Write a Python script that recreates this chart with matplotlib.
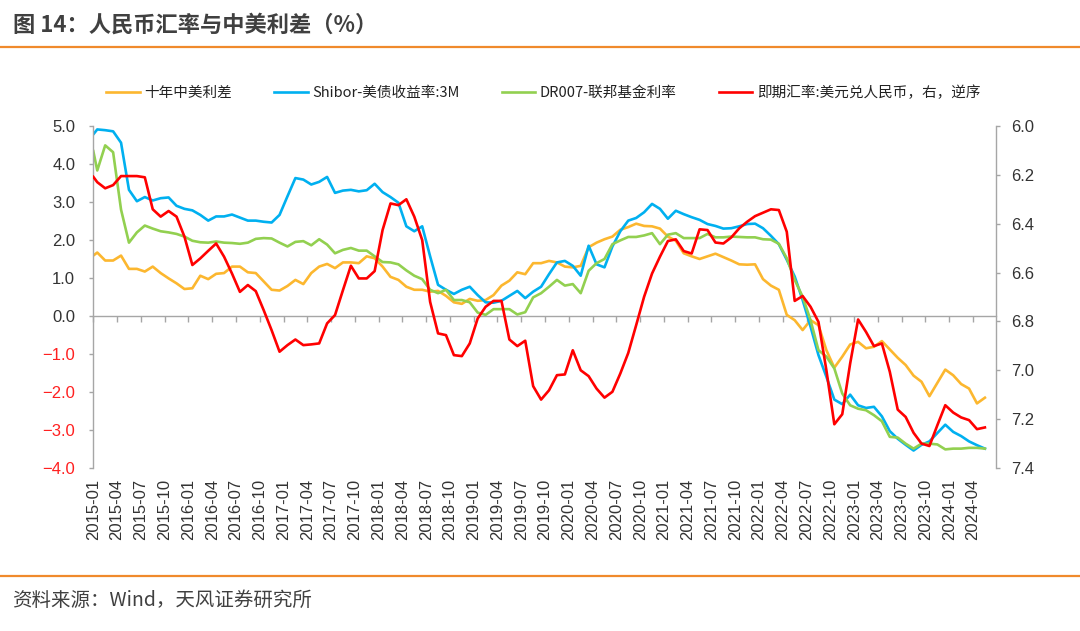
import numpy as np
import matplotlib
matplotlib.use("Agg")
import matplotlib.pyplot as plt
from matplotlib.lines import Line2D
from matplotlib.font_manager import FontProperties

plt.rcParams['font.family'] = ['Liberation Sans', 'Noto Sans CJK SC', 'DejaVu Sans']
CJK = ['Noto Sans CJK SC', 'DejaVu Sans']

# ---------------- data ----------------
# monthly observations 2015-01 ... 2024-05; the first element of every series
# is the value at the very start of the axis (start of 2015-01)
months = [f"{y}-{m:02d}" for y in range(2015, 2025) for m in range(1, 13)][:113]
tick_labels = months[::3]

spread_10y = [1.59,
    1.67, 1.46, 1.46, 1.59, 1.24, 1.24, 1.17, 1.30, 1.13, 0.99,
    0.86, 0.71, 0.73, 1.06, 0.97, 1.11, 1.13, 1.30, 1.30, 1.15,
    1.13, 0.91, 0.69, 0.67, 0.79, 0.95, 0.84, 1.13, 1.30, 1.37,
    1.26, 1.41, 1.41, 1.39, 1.57, 1.52, 1.30, 1.03, 0.95, 0.77,
    0.69, 0.69, 0.64, 0.66, 0.53, 0.36, 0.32, 0.45, 0.40, 0.42,
    0.55, 0.80, 0.93, 1.15, 1.10, 1.39, 1.39, 1.45, 1.41, 1.30,
    1.28, 1.32, 1.81, 1.93, 2.02, 2.09, 2.27, 2.34, 2.43, 2.37,
    2.36, 2.30, 2.09, 1.98, 1.65, 1.57, 1.50, 1.57, 1.64, 1.55,
    1.46, 1.36, 1.35, 1.36, 0.97, 0.80, 0.69, 0.03, -0.11, -0.37,
    -0.11, -0.24, -0.90, -1.36, -1.07, -0.75, -0.68, -0.85, -0.81, -0.66,
    -0.88, -1.10, -1.29, -1.57, -1.73, -2.11, -1.76, -1.41, -1.56, -1.79,
    -1.91, -2.30, -2.15]

shibor_spread = [4.78,
    4.91, 4.89, 4.86, 4.56, 3.32, 3.02, 3.13, 3.04, 3.10, 3.12,
    2.90, 2.82, 2.78, 2.66, 2.51, 2.62, 2.62, 2.67, 2.59, 2.51,
    2.51, 2.48, 2.46, 2.66, 3.15, 3.63, 3.59, 3.46, 3.53, 3.66,
    3.24, 3.30, 3.32, 3.28, 3.31, 3.48, 3.26, 3.13, 2.98, 2.36,
    2.23, 2.36, 1.57, 0.82, 0.69, 0.58, 0.69, 0.77, 0.55, 0.36,
    0.35, 0.40, 0.53, 0.66, 0.47, 0.64, 0.77, 1.10, 1.41, 1.45,
    1.32, 1.06, 1.85, 1.36, 1.28, 1.83, 2.23, 2.51, 2.58, 2.73,
    2.95, 2.82, 2.56, 2.77, 2.68, 2.60, 2.53, 2.42, 2.37, 2.30,
    2.31, 2.36, 2.42, 2.43, 2.31, 2.11, 1.89, 1.48, 1.04, 0.42,
    -0.28, -1.03, -1.60, -2.20, -2.32, -2.07, -2.35, -2.42, -2.39, -2.64,
    -3.03, -3.23, -3.39, -3.54, -3.39, -3.30, -3.08, -2.86, -3.05, -3.16,
    -3.30, -3.40, -3.49]

dr007_spread = [4.34,
    3.83, 4.49, 4.31, 2.80, 1.93, 2.20, 2.38, 2.30, 2.23, 2.20,
    2.16, 2.09, 1.98, 1.94, 1.93, 1.96, 1.93, 1.92, 1.90, 1.93,
    2.03, 2.05, 2.04, 1.93, 1.83, 1.95, 1.97, 1.86, 2.02, 1.88,
    1.65, 1.74, 1.79, 1.72, 1.72, 1.57, 1.42, 1.41, 1.36, 1.20,
    1.06, 0.97, 0.69, 0.60, 0.69, 0.42, 0.42, 0.36, 0.09, 0.03,
    0.18, 0.18, 0.18, 0.04, 0.10, 0.49, 0.60, 0.77, 0.95, 0.80,
    0.84, 0.60, 1.19, 1.39, 1.50, 1.89, 1.99, 2.08, 2.08, 2.12,
    2.18, 1.89, 2.14, 2.18, 2.05, 2.05, 2.05, 2.16, 2.07, 2.07,
    2.09, 2.08, 2.07, 2.07, 2.02, 2.01, 1.90, 1.52, 0.95, 0.51,
    -0.11, -0.90, -1.07, -1.38, -2.04, -2.35, -2.44, -2.48, -2.61, -2.77,
    -3.18, -3.20, -3.36, -3.49, -3.36, -3.36, -3.38, -3.51, -3.49, -3.49,
    -3.47, -3.47, -3.49]

usdcny = [6.208,
    6.230, 6.255, 6.242, 6.205, 6.205, 6.205, 6.210, 6.341, 6.371, 6.348,
    6.371, 6.453, 6.569, 6.542, 6.511, 6.481, 6.535, 6.604, 6.679, 6.651,
    6.676, 6.754, 6.836, 6.924, 6.897, 6.874, 6.897, 6.894, 6.890, 6.808,
    6.774, 6.672, 6.572, 6.624, 6.624, 6.594, 6.426, 6.317, 6.324, 6.300,
    6.371, 6.467, 6.720, 6.849, 6.856, 6.938, 6.942, 6.890, 6.788, 6.740,
    6.716, 6.716, 6.874, 6.901, 6.879, 7.065, 7.120, 7.082, 7.020, 7.017,
    6.918, 7.000, 7.024, 7.075, 7.112, 7.088, 7.013, 6.929, 6.815, 6.699,
    6.604, 6.535, 6.471, 6.464, 6.512, 6.522, 6.423, 6.426, 6.477, 6.481,
    6.456, 6.419, 6.392, 6.369, 6.355, 6.341, 6.344, 6.433, 6.716, 6.696,
    6.740, 6.802, 7.000, 7.221, 7.180, 6.972, 6.792, 6.843, 6.901, 6.890,
    7.006, 7.161, 7.191, 7.256, 7.300, 7.310, 7.225, 7.143, 7.173, 7.193,
    7.204, 7.241, 7.234]

series_names = ["十年中美利差", "Shibor-美债收益率:3M", "DR007-联邦基金利率",
                "即期汇率:美元兑人民币，右，逆序"]
colors = ["#FCB72F", "#00B0F0", "#92D050", "#FF0000"]

left_ticks = [5.0, 4.0, 3.0, 2.0, 1.0, 0.0, -1.0, -2.0, -3.0, -4.0]
right_ticks = [6.0, 6.2, 6.4, 6.6, 6.8, 7.0, 7.2, 7.4]

# ---------------- figure ----------------
W, H = 1080, 631
fig = plt.figure(figsize=(W / 100, H / 100), dpi=100)
ax = fig.add_axes([93.3 / W, 1 - 468 / H, (996 - 93.3) / W, (468 - 126) / H])

n = len(months)
x = np.r_[0.0, np.arange(n) + 0.5]
lw = 1.9
l1, = ax.plot(x, spread_10y, color=colors[0], lw=lw)
l2, = ax.plot(x, shibor_spread, color=colors[1], lw=lw)
l3, = ax.plot(x, dr007_spread, color=colors[2], lw=lw)

ax.set_xlim(0, 113.9)
ax.set_ylim(-4, 5)
axis_grey = "#A6A6A6"
txt = "#333333"

ax.set_yticks(left_ticks, labels=[f"{v:.1f}".replace("-", "\u2212") for v in left_ticks])
for lab, v in zip(ax.get_yticklabels(), left_ticks):
    lab.set_color("#FF2020" if v < 0 else txt)
ax.tick_params(axis="y", direction="out", length=3, width=1, color=axis_grey,
               labelsize=12, pad=10)

tick_pos = np.arange(0, n, 3)
ax.set_xticks(tick_pos, labels=tick_labels, rotation=90)
ax.tick_params(axis="x", length=0, labelsize=12, pad=8, labelcolor=txt)
for s in ["top", "right", "bottom"]:
    ax.spines[s].set_visible(False)
ax.spines["left"].set_color(axis_grey)
ax.spines["left"].set_linewidth(1)

# zero line with tick marks (y = 0 sits 4/9 of the way up the axes)
zero_frac = (0 - (-4)) / (5 - (-4))
sec = ax.secondary_xaxis(zero_frac)
sec.set_xticks(tick_pos)
sec.tick_params(direction="out", length=4, width=1, color=axis_grey,
                labeltop=False, labelbottom=False)
for s in sec.spines.values():
    s.set_color(axis_grey)
    s.set_linewidth(1)

ax2 = ax.twinx()
l4, = ax2.plot(x, usdcny, color=colors[3], lw=lw)
ax2.set_ylim(7.4, 6.0)
ax2.set_yticks(right_ticks, labels=[f"{v:.1f}" for v in right_ticks])
ax2.tick_params(axis="y", direction="out", length=3, width=1, color=axis_grey,
                labelsize=12, pad=8, labelcolor=txt)
for s in ["top", "left", "bottom"]:
    ax2.spines[s].set_visible(False)
ax2.spines["right"].set_color(axis_grey)
ax2.spines["right"].set_linewidth(1)

fig.legend([l1, l2, l3, l4], series_names, loc="center",
           bbox_to_anchor=(0.503, 1 - 93 / H), ncol=4, frameon=False,
           prop=FontProperties(family=CJK, size=10.5),
           handlelength=2.3, handletextpad=0.3, columnspacing=2.9,
           labelcolor="#222222")

# title, rules and source
fig.text(13 / W, 1 - 25 / H, "图 14：人民币汇率与中美利差（%）", family=CJK,
         fontsize=16, weight="bold", color="#404040", ha="left", va="center")
orange = "#F08A2C"
fig.add_artist(Line2D([0, 1], [1 - 47 / H] * 2, transform=fig.transFigure,
                      color=orange, lw=1.6))
fig.add_artist(Line2D([0, 1], [1 - 576 / H] * 2, transform=fig.transFigure,
                      color=orange, lw=1.6))
fig.text(12 / W, 1 - 600 / H, "资料来源：Wind，天风证券研究所", family=CJK,
         fontsize=14, color="#404040", ha="left", va="center")

fig.savefig("out.png", dpi=100)
